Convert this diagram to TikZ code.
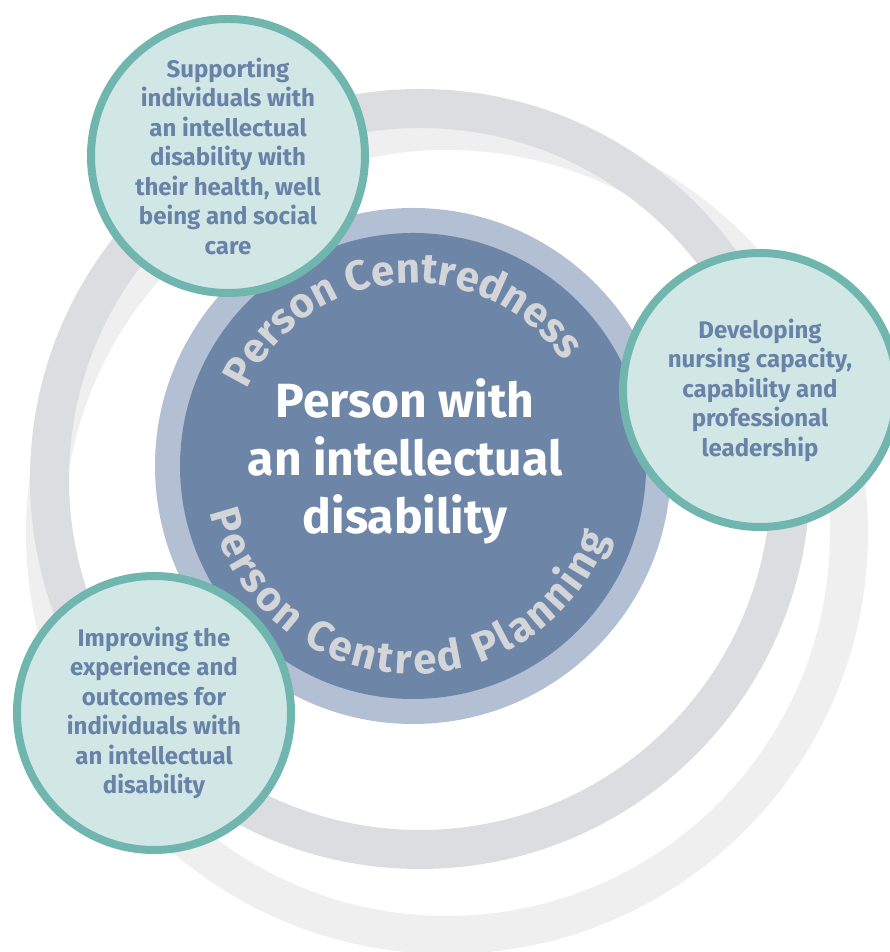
\documentclass[tikz,border=0pt]{standalone}
\usepackage{fontspec}
\setmainfont{Fira Sans}
\usetikzlibrary{decorations.text}
\definecolor{haloclr}{HTML}{EFEFEF}
\definecolor{ringclr}{HTML}{DCDDE0}
\definecolor{rimclr}{HTML}{B3C0D4}
\definecolor{coreclr}{HTML}{6D86A8}
\definecolor{tealclr}{HTML}{71B6AE}
\definecolor{mintclr}{HTML}{D1E7E5}
\definecolor{inkclr}{HTML}{6982A8}
\definecolor{arcclr}{HTML}{D3D5D9}
\newcommand\arcfont{\bfseries\fontsize{42}{42}\selectfont}
\tikzset{ %
  ,every node/.style={font=\bfseries}
  ,halo/.style={draw=haloclr, line width=38pt}
  ,ring/.style={draw=ringclr, line width=39pt}
  ,rim/.style={circle, inner sep=0, minimum size=516pt, fill=rimclr}
  ,core/.style={circle, inner sep=0, minimum size=466pt, fill=coreclr}
  ,aim/.style={draw=tealclr, circle, inner sep=0, minimum size=274pt, line width=8pt, fill=mintclr, text=inkclr, align=center, font=\bfseries\fontsize{24}{29.5}\selectfont}
  ,hubtxt/.style={text=white, align=center, font=\bfseries\fontsize{48}{58}\selectfont}
  ,arctxt/.style n args={2}{decorate, decoration={text along path, text={|\arcfont|#1}, text align=#2, text color=arcclr}}
}

\begin{document}
\begin{tikzpicture}[x=1pt, y=1pt]
  \useasboundingbox (0,0) rectangle (889,952);
  % outer rings
  \draw[halo] (447,419) circle[radius=402];
  \draw[ring] (420,473) circle[radius=370.5];
  % person in the middle
  \draw
  node[rim] (rim) at (413,486) {}
  node[core] (core) at (413,486) {}
  node[hubtxt] (who) at (405,491) {Person with\\an intellectual\\disability};
  \path[arctxt={Person Centredness}{center}] ([shift={(core.center)}]157:183) arc[start angle=157, end angle=33, radius=183];
  \path[arctxt={Person Centred Planning}{fit to path}] ([shift={(core.center)}]193:208) arc[start angle=193, end angle=340, radius=208];
  % the three aims
  \draw
  node[aim] (care) at (228,796) {Supporting\\individuals with\\an intellectual\\disability with\\their health, well\\being and social\\care}
  node[aim] (lead) at (760,562) {Developing\\nursing capacity,\\capability and\\professional\\leadership}
  node[aim] (outcome) at (154,239) {Improving the\\experience and\\outcomes for\\individuals with\\an intellectual\\disability};
\end{tikzpicture}
\end{document}
